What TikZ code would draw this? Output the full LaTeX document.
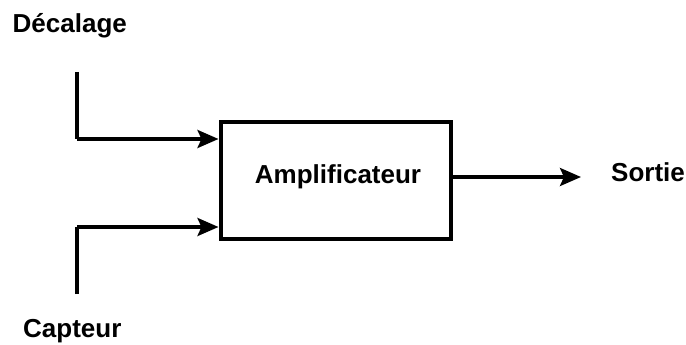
\documentclass[tikz,border=0pt]{standalone}
\usepackage{fontspec}
\setmainfont{Liberation Sans}
\usetikzlibrary{arrows.meta}
\begin{document}
\begin{tikzpicture}[x=1pt,y=-1pt,
  lbl/.style={font=\fontsize{26}{29}\selectfont\bfseries, inner sep=0pt},
  wire/.style={line width=3.5pt, line join=miter},
  arr/.style={wire, -{Stealth[length=21pt,width=18pt,inset=4pt]}},
  blk/.style={draw, line width=4pt, minimum width=230pt, minimum height=117pt, inner sep=0pt}]
\useasboundingbox (0,0) rectangle (686,345);
\node[blk] (amp) at (335.5,180) {};
\node[lbl, anchor=base] (ampt) at (338,183) {Amplificateur};
\node[lbl, anchor=base west] (dec) at (12.5,33) {Décalage};
\node[lbl, anchor=base west] (cap) at (23,337) {Capteur};
\node[lbl, anchor=base west] (sor) at (611,181) {Sortie};
\coordinate (d1) at (77,72);
\coordinate (d2) at (77,139);
\coordinate (c1) at (77,294);
\coordinate (c2) at (77,227);
\coordinate (o1) at (581,177);
\draw[wire] (d1) -- (d2);
\draw[arr] (d2) -- (amp.west |- d2);
\draw[wire] (c1) -- (c2);
\draw[arr] (c2) -- (amp.west |- c2);
\draw[arr] (amp.east |- o1) -- (o1);
\end{tikzpicture}
\end{document}
